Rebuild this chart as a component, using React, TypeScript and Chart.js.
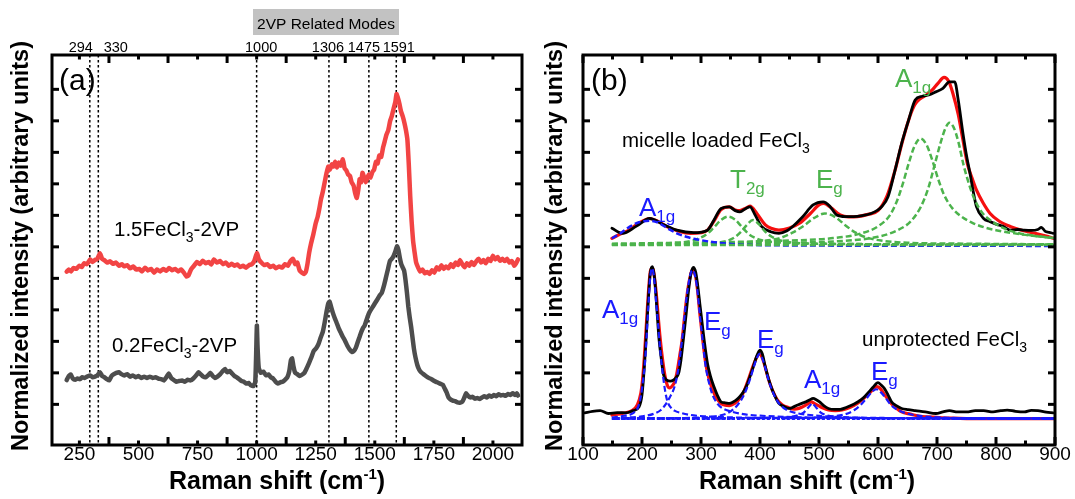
import React, { useEffect, useRef } from "react";
import { Chart, registerables } from "chart.js";
Chart.register(...registerables);

const FONT = '"Liberation Sans", Arial, Helvetica, sans-serif';

// ---------- shared y scale (arbitrary units, tick marks at 0..10) ----------
const Y_MIN = -1.29;
const Y_MAX = 11.09;
const Y_TICKS = [0, 1, 2, 3, 4, 5, 6, 7, 8, 9, 10];

// ---------- panel (a) ----------
const A_X_MIN = 134;
const A_X_MAX = 2123;
const A_LABEL_TICKS = [250, 500, 750, 1000, 1250, 1500, 1750, 2000];
const A_LONG_TICKS = [375, 625, 875, 1125, 1375, 1625, 1875];
const A_MODES = [294, 330, 1000, 1306, 1475, 1591];
const A_MODE_NAMES = ["294", "330", "1000", "1306", "1475", "1591"];

const A_RED: [number, number][] = [[196,4.21],[205,4.28],[215,4.22],[225,4.33],[237,4.30],[249,4.40],[260,4.36],[270,4.48],[282,4.45],[296,4.60],[305,4.52],[315,4.58],[326,4.62],[337,4.80],[346,4.62],[355,4.58],[367,4.50],[380,4.54],[392,4.46],[405,4.50],[418,4.40],[430,4.45],[439,4.38],[452,4.42],[465,4.32],[478,4.38],[490,4.28],[503,4.30],[515,4.22],[528,4.34],[540,4.25],[553,4.30],[566,4.18],[578,4.28],[592,4.22],[605,4.30],[618,4.24],[630,4.33],[642,4.26],[655,4.30],[668,4.22],[680,4.28],[692,4.18],[703,4.06],[712,4.10],[722,4.28],[735,4.40],[748,4.52],[760,4.45],[772,4.56],[785,4.48],[797,4.52],[808,4.44],[819,4.60],[832,4.50],[845,4.55],[858,4.45],[870,4.50],[882,4.40],[895,4.46],[906,4.40],[918,4.44],[930,4.36],[942,4.40],[955,4.34],[968,4.42],[980,4.45],[990,4.55],[1001,4.80],[1010,4.60],[1020,4.50],[1032,4.42],[1045,4.45],[1058,4.36],[1070,4.40],[1082,4.32],[1095,4.38],[1108,4.34],[1120,4.45],[1132,4.40],[1143,4.55],[1154,4.62],[1163,4.45],[1172,4.50],[1182,4.25],[1192,4.18],[1200,4.14],[1208,4.20],[1215,4.45],[1222,4.80],[1230,5.10],[1240,5.40],[1250,5.75],[1258,5.95],[1265,6.20],[1272,6.50],[1280,6.75],[1288,7.05],[1296,7.35],[1303,7.55],[1310,7.45],[1318,7.62],[1325,7.55],[1332,7.70],[1340,7.52],[1348,7.68],[1356,7.58],[1365,7.78],[1372,7.50],[1380,7.42],[1387,7.30],[1395,7.25],[1402,7.05],[1410,6.95],[1417,6.70],[1424,6.55],[1430,6.80],[1436,7.15],[1442,7.05],[1448,7.35],[1455,7.20],[1462,7.05],[1468,7.18],[1475,7.30],[1482,7.20],[1490,7.38],[1497,7.45],[1505,7.70],[1512,7.65],[1519,7.90],[1527,7.85],[1535,8.15],[1542,8.35],[1549,8.55],[1557,8.70],[1565,9.00],[1572,9.15],[1580,9.40],[1587,9.60],[1592,9.85],[1597,9.75],[1604,9.55],[1611,9.30],[1618,9.15],[1625,8.95],[1632,8.70],[1638,8.40],[1644,7.60],[1650,6.60],[1656,5.80],[1662,5.20],[1668,4.85],[1675,4.50],[1683,4.35],[1692,4.22],[1702,4.28],[1712,4.16],[1722,4.20],[1732,4.14],[1742,4.26],[1752,4.18],[1762,4.35],[1772,4.28],[1782,4.42],[1792,4.30],[1802,4.38],[1812,4.32],[1822,4.45],[1832,4.36],[1842,4.50],[1852,4.42],[1860,4.58],[1870,4.45],[1880,4.35],[1890,4.48],[1900,4.40],[1910,4.52],[1920,4.42],[1930,4.55],[1940,4.62],[1950,4.50],[1960,4.58],[1970,4.48],[1980,4.62],[1990,4.55],[2000,4.72],[2010,4.60],[2020,4.68],[2030,4.56],[2040,4.62],[2050,4.55],[2060,4.62],[2070,4.50],[2080,4.55],[2090,4.40],[2098,4.48],[2106,4.60]];

const A_GREY: [number, number][] = [[196,0.77],[205,0.90],[213,0.95],[222,0.82],[232,0.78],[242,0.82],[252,0.80],[262,0.86],[272,0.84],[282,0.88],[296,0.92],[306,0.86],[316,0.88],[326,0.92],[337,1.02],[346,0.90],[356,0.86],[366,0.80],[376,0.76],[386,0.90],[396,0.96],[406,1.00],[417,1.02],[428,0.96],[440,0.92],[452,0.96],[464,0.88],[476,0.92],[488,0.86],[500,0.90],[512,0.84],[524,0.88],[536,0.84],[548,0.88],[560,0.84],[572,0.86],[584,0.82],[596,0.80],[608,0.76],[618,0.86],[628,0.98],[638,0.84],[648,0.78],[660,0.72],[672,0.74],[684,0.76],[696,0.72],[708,0.78],[720,0.76],[732,0.82],[744,0.92],[754,1.02],[764,0.95],[774,0.88],[784,0.86],[794,0.92],[804,1.00],[814,0.90],[824,0.84],[834,0.88],[846,0.96],[856,1.05],[866,1.12],[876,1.02],[886,1.06],[896,0.98],[906,0.90],[916,0.86],[926,0.80],[936,0.74],[946,0.72],[956,0.66],[966,0.68],[976,0.60],[986,0.58],[994,0.70],[998,1.60],[1001,2.50],[1004,1.80],[1009,1.15],[1018,1.00],[1028,1.04],[1040,0.92],[1050,0.95],[1060,0.86],[1070,0.82],[1080,0.72],[1090,0.66],[1100,0.70],[1110,0.72],[1120,0.78],[1130,0.86],[1138,1.05],[1145,1.40],[1150,1.46],[1156,1.20],[1163,1.00],[1172,0.96],[1182,0.90],[1192,0.94],[1202,1.00],[1212,1.15],[1222,1.32],[1232,1.50],[1242,1.70],[1252,1.78],[1262,1.92],[1270,2.10],[1280,2.30],[1288,2.60],[1296,2.95],[1303,3.20],[1309,3.26],[1315,3.10],[1322,2.92],[1330,2.75],[1338,2.60],[1347,2.42],[1356,2.28],[1365,2.14],[1374,2.02],[1384,1.86],[1394,1.74],[1404,1.66],[1412,1.70],[1420,1.80],[1428,1.98],[1436,2.15],[1443,2.30],[1450,2.42],[1457,2.50],[1465,2.68],[1473,2.85],[1480,2.96],[1490,3.08],[1500,3.20],[1510,3.32],[1520,3.45],[1530,3.55],[1540,3.80],[1548,4.05],[1556,4.30],[1564,4.55],[1572,4.62],[1580,4.72],[1587,4.85],[1594,5.02],[1600,4.90],[1606,4.65],[1612,4.45],[1618,4.35],[1624,4.25],[1630,3.95],[1636,3.55],[1642,3.10],[1648,2.75],[1654,2.45],[1660,2.10],[1666,1.75],[1672,1.50],[1680,1.25],[1688,1.10],[1696,1.02],[1706,0.96],[1716,0.90],[1728,0.84],[1740,0.80],[1752,0.74],[1764,0.70],[1776,0.66],[1788,0.62],[1796,0.50],[1804,0.38],[1812,0.22],[1820,0.16],[1830,0.12],[1840,0.10],[1850,0.06],[1860,0.05],[1870,0.08],[1878,0.20],[1886,0.35],[1894,0.28],[1904,0.22],[1914,0.24],[1924,0.18],[1934,0.20],[1944,0.17],[1954,0.22],[1964,0.26],[1974,0.22],[1984,0.28],[1994,0.24],[2004,0.30],[2014,0.26],[2024,0.32],[2034,0.28],[2044,0.30],[2054,0.27],[2064,0.33],[2074,0.30],[2084,0.35],[2094,0.30],[2102,0.35],[2106,0.28]];

// ---------- panel (b) ----------
const B_X_MIN = 100;
const B_X_MAX = 900;
const B_LABEL_TICKS = [100, 200, 300, 400, 500, 600, 700, 800, 900];
const B_SHORT_TICKS = [150, 250, 350, 450, 550, 650, 750, 850];

const B_TOP_DATA: [number, number][] = [[149,5.59],[167,5.43],[190,5.65],[213,5.90],[235,5.72],[259,5.53],[288,5.45],[311,5.53],[322,5.85],[334,6.22],[348,6.27],[358,6.15],[366,6.11],[376,6.22],[383,6.27],[392,6.00],[403,5.64],[418,5.48],[432,5.43],[445,5.50],[455,5.64],[472,5.95],[490,6.33],[507,6.43],[518,6.30],[530,6.01],[545,5.96],[559,5.96],[575,6.00],[588,6.06],[598,6.15],[606,6.27],[617,6.59],[629,7.44],[640,8.28],[652,9.03],[663,9.66],[675,9.78],[686,9.82],[698,9.92],[710,10.03],[721,10.24],[730,10.24],[736,9.66],[744,8.60],[750,7.90],[756,7.33],[762,6.70],[767,6.27],[779,5.90],[790,5.80],[800,5.72],[812,5.65],[825,5.53],[837,5.55],[848,5.53],[860,5.52],[871,5.55],[877,5.62],[883,5.50],[890,5.46],[897,5.43]];

const B_TOP_FIT: [number, number][] = [[149,5.27],[165,5.42],[178,5.53],[195,5.76],[213,5.90],[228,5.80],[242,5.64],[262,5.50],[282,5.43],[300,5.45],[311,5.53],[322,5.82],[334,6.18],[348,6.27],[358,6.17],[366,6.15],[375,6.22],[383,6.29],[395,6.05],[409,5.70],[420,5.58],[432,5.53],[450,5.60],[467,5.75],[485,6.05],[500,6.33],[508,6.38],[520,6.25],[536,6.01],[550,5.95],[565,5.96],[583,6.03],[600,6.15],[615,6.60],[629,7.44],[640,8.25],[652,9.03],[662,9.50],[672,9.71],[682,9.82],[692,9.98],[702,10.20],[712,10.38],[720,10.25],[727,9.87],[736,9.20],[744,8.39],[752,7.60],[760,7.15],[767,6.80],[778,6.40],[790,6.06],[805,5.82],[825,5.64],[845,5.52],[866,5.43],[885,5.34],[897,5.27]];

const B_BLUE_TOP: [number, number][] = [[149,5.27],[165,5.45],[180,5.65],[195,5.78],[213,5.83],[228,5.76],[244,5.58],[259,5.43],[275,5.32],[290,5.25],[317,5.16],[345,5.10],[370,5.07],[420,5.05],[500,5.04],[900,5.03]];
const B_GREEN_T2G1: [number, number][] = [[149,5.07],[250,5.12],[290,5.22],[311,5.42],[322,5.62],[334,5.85],[346,5.96],[358,5.86],[368,5.66],[380,5.42],[392,5.28],[403,5.21],[440,5.13],[550,5.09],[900,5.07]];
const B_GREEN_T2G2: [number, number][] = [[149,5.07],[300,5.10],[340,5.17],[357,5.30],[368,5.48],[378,5.70],[388,5.85],[398,5.72],[408,5.50],[420,5.32],[440,5.18],[500,5.10],[900,5.07]];
const B_GREEN_EG: [number, number][] = [[149,5.08],[350,5.12],[400,5.18],[432,5.27],[455,5.45],[475,5.68],[492,5.92],[510,6.06],[528,5.94],[545,5.68],[562,5.45],[580,5.30],[605,5.20],[650,5.13],[750,5.10],[900,5.08]];
const B_GREEN_A1G1: [number, number][] = [[149,5.10],[300,5.14],[450,5.20],[520,5.27],[570,5.42],[600,5.65],[620,6.00],[632,6.45],[642,7.00],[652,7.65],[662,8.20],[672,8.44],[682,8.25],[692,7.75],[702,7.15],[712,6.65],[725,6.25],[740,5.98],[760,5.76],[780,5.62],[800,5.53],[850,5.38],[900,5.28]];
const B_GREEN_A1G2: [number, number][] = [[149,5.08],[400,5.12],[550,5.20],[600,5.32],[630,5.50],[655,5.80],[672,6.25],[685,6.85],[696,7.60],[706,8.30],[714,8.75],[721,8.94],[728,8.80],[736,8.35],[745,7.60],[755,6.95],[765,6.45],[778,6.05],[790,5.85],[810,5.62],[835,5.45],[865,5.35],[900,5.27]];
const B_GREEN_BASE: [number, number][] = [[149,5.06],[900,5.06]];

const B_BOT_DATA: [number, number][] = [[103,-0.27],[116,-0.22],[129,-0.20],[143,-0.29],[158,-0.26],[172,-0.27],[185,-0.20],[195,-0.08],[200,0.30],[204,1.19],[207,2.10],[210,3.10],[214,4.16],[218,4.37],[221,4.05],[223,3.63],[226,2.80],[229,2.04],[233,1.40],[236,0.98],[242,0.77],[248,0.74],[253,0.77],[258,0.86],[262,0.98],[266,1.40],[270,2.04],[275,2.90],[279,3.63],[283,4.15],[287,4.35],[291,4.20],[294,3.84],[298,3.20],[302,2.57],[306,1.95],[311,1.30],[316,0.90],[322,0.56],[328,0.28],[334,0.08],[341,0.05],[348,0.03],[355,0.08],[360,0.14],[366,0.25],[372,0.40],[378,0.62],[383,0.88],[388,1.15],[392,1.40],[396,1.60],[400,1.72],[404,1.60],[409,1.19],[415,0.78],[421,0.45],[427,0.20],[432,0.03],[440,-0.06],[449,-0.13],[457,-0.08],[464,-0.02],[472,0.04],[478,0.08],[484,0.14],[490,0.19],[496,0.14],[501,0.08],[508,-0.04],[516,-0.13],[526,-0.16],[536,-0.16],[546,-0.10],[556,-0.02],[564,0.06],[571,0.14],[578,0.26],[585,0.40],[592,0.55],[600,0.69],[605,0.62],[611,0.50],[617,0.30],[623,0.08],[631,-0.04],[640,-0.13],[651,-0.17],[663,-0.20],[680,-0.24],[698,-0.29],[710,-0.24],[721,-0.20],[735,-0.24],[750,-0.24],[765,-0.20],[779,-0.20],[795,-0.24],[808,-0.20],[819,-0.18],[833,-0.22],[848,-0.24],[860,-0.19],[871,-0.20],[885,-0.25],[897,-0.27]];

const B_BOT_FIT: [number, number][] = [[149,-0.34],[168,-0.28],[184,-0.19],[192,-0.02],[198,0.35],[201,0.80],[204,1.51],[207,2.40],[210,3.31],[214,4.21],[217,4.32],[219,4.28],[221,4.05],[224,3.55],[227,2.89],[231,2.05],[235,1.40],[239,0.90],[243,0.60],[247,0.52],[250,0.56],[255,0.70],[259,0.98],[264,1.55],[268,2.04],[272,2.75],[276,3.42],[281,4.00],[285,4.26],[288,4.20],[291,4.05],[294,3.65],[298,2.89],[303,2.05],[308,1.30],[314,0.78],[320,0.45],[327,0.18],[334,0.03],[341,-0.03],[348,-0.04],[357,0.03],[366,0.19],[373,0.42],[380,0.77],[386,1.10],[391,1.35],[395,1.52],[399,1.61],[403,1.52],[408,1.24],[414,0.82],[421,0.45],[429,0.15],[438,-0.02],[448,-0.10],[458,-0.15],[467,-0.12],[476,-0.04],[482,0.03],[487,0.08],[492,0.03],[499,-0.04],[507,-0.12],[516,-0.18],[528,-0.20],[539,-0.18],[552,-0.10],[565,0.03],[575,0.18],[585,0.35],[592,0.48],[597,0.56],[602,0.53],[606,0.45],[613,0.26],[620,0.08],[630,-0.10],[640,-0.24],[655,-0.31],[669,-0.37],[686,-0.40],[704,-0.42],[725,-0.44],[750,-0.45],[800,-0.45],[900,-0.45]];

const B_BLUE_1: [number, number][] = [[149,-0.42],[170,-0.36],[185,-0.28],[193,-0.10],[198,0.25],[202,0.80],[205,1.30],[208,2.20],[211,3.20],[214,4.05],[217,4.32],[220,4.10],[223,3.45],[227,2.60],[231,1.70],[235,1.00],[239,0.45],[243,0.10],[248,-0.08],[255,-0.20],[268,-0.28],[280,-0.33],[305,-0.38],[330,-0.40],[400,-0.43],[900,-0.45]];
const B_BLUE_2: [number, number][] = [[149,-0.44],[200,-0.38],[220,-0.30],[232,-0.18],[240,0.00],[247,0.22],[255,0.55],[260,0.95],[265,1.60],[270,2.40],[275,3.30],[280,3.95],[285,4.26],[289,4.15],[293,3.75],[298,2.85],[303,2.00],[308,1.20],[314,0.65],[320,0.28],[328,0.02],[336,-0.12],[350,-0.22],[375,-0.32],[400,-0.36],[500,-0.42],[900,-0.45]];
const B_BLUE_3: [number, number][] = [[149,-0.45],[300,-0.42],[330,-0.36],[345,-0.28],[355,-0.15],[362,-0.02],[370,0.20],[377,0.48],[384,0.85],[390,1.22],[395,1.48],[399,1.60],[403,1.50],[408,1.22],[414,0.80],[421,0.42],[428,0.15],[435,-0.03],[445,-0.17],[460,-0.27],[480,-0.33],[520,-0.39],[600,-0.43],[900,-0.45]];
const B_BLUE_4: [number, number][] = [[149,-0.45],[420,-0.43],[450,-0.40],[465,-0.34],[474,-0.26],[480,-0.14],[485,-0.03],[488,0.03],[492,-0.03],[497,-0.14],[503,-0.26],[512,-0.34],[530,-0.40],[560,-0.43],[900,-0.45]];
const B_BLUE_5: [number, number][] = [[149,-0.45],[480,-0.43],[520,-0.39],[545,-0.31],[560,-0.18],[570,-0.03],[580,0.18],[588,0.36],[597,0.48],[605,0.38],[613,0.20],[621,0.00],[630,-0.14],[645,-0.27],[665,-0.35],[700,-0.41],[760,-0.44],[900,-0.45]];
const B_BLUE_BASE: [number, number][] = [[149,-0.45],[900,-0.45]];

// ---------- colours ----------
const RED_A = "#f24444";
const GREY_A = "#4d4d4d";
const RED_B = "#f50f0f";
const GREEN = "#4cb34c";
const BLUE = "#1a1aff";

type Run = { t: string; size: number; dy?: number; bold?: boolean };

function drawRuns(ctx: CanvasRenderingContext2D, runs: Run[], x: number, y: number, color: string, align: "left" | "center" = "left") {
  ctx.save();
  ctx.fillStyle = color;
  ctx.textBaseline = "alphabetic";
  ctx.textAlign = "left";
  let w = 0;
  const widths: number[] = [];
  for (const r of runs) {
    ctx.font = `${r.bold ? "bold " : ""}${r.size}px ${FONT}`;
    const m = ctx.measureText(r.t).width;
    widths.push(m);
    w += m;
  }
  let cx = align === "center" ? x - w / 2 : x;
  runs.forEach((r, i) => {
    ctx.font = `${r.bold ? "bold " : ""}${r.size}px ${FONT}`;
    ctx.fillText(r.t, cx, y + (r.dy || 0));
    cx += widths[i];
  });
  ctx.restore();
}

function mode(ctx: CanvasRenderingContext2D, main: string, sub: string, x: number, y: number, color: string) {
  drawRuns(ctx, [{ t: main, size: 26 }, { t: sub, size: 17, dy: 6 }], x, y, color);
}

function xTitle(ctx: CanvasRenderingContext2D, cx: number, y: number) {
  drawRuns(ctx, [
    { t: "Raman shift (cm", size: 25, bold: true },
    { t: "-1", size: 15, bold: true, dy: -10 },
    { t: ")", size: 25, bold: true },
  ], cx, y, "#000", "center");
}

function yTitle(ctx: CanvasRenderingContext2D, x: number, cy: number) {
  ctx.save();
  ctx.translate(x, cy);
  ctx.rotate(-Math.PI / 2);
  drawRuns(ctx, [{ t: "Normalized intensity (arbitrary units)", size: 23.5, bold: true }], 0, 0, "#000", "center");
  ctx.restore();
}

function framePlugin(longX: number[], shortX: number[]) {
  return {
    id: "frame",
    afterDraw(chart: any) {
      const { ctx, chartArea: ca, scales } = chart;
      const x = scales.x, y = scales.y;
      ctx.save();
      ctx.strokeStyle = "#000";
      ctx.lineWidth = 3;
      ctx.strokeRect(ca.left, ca.top, ca.right - ca.left, ca.bottom - ca.top);
      ctx.lineWidth = 3;
      ctx.lineCap = "butt";
      const tick = (x1: number, y1: number, x2: number, y2: number) => {
        ctx.beginPath(); ctx.moveTo(x1, y1); ctx.lineTo(x2, y2); ctx.stroke();
      };
      for (const v of longX) {
        const p = x.getPixelForValue(v);
        tick(p, ca.bottom, p, ca.bottom - 8);
        tick(p, ca.top, p, ca.top + 8);
      }
      for (const v of shortX) {
        const p = x.getPixelForValue(v);
        tick(p, ca.bottom, p, ca.bottom - 4.5);
        tick(p, ca.top, p, ca.top + 4.5);
      }
      for (const v of Y_TICKS) {
        const p = y.getPixelForValue(v);
        tick(ca.left, p, ca.left + 7, p);
        tick(ca.right, p, ca.right - 7, p);
      }
      ctx.restore();
    },
  };
}

const annotA = {
  id: "annotA",
  beforeDatasetsDraw(chart: any) {
    const { ctx, chartArea: ca, scales } = chart;
    ctx.save();
    ctx.strokeStyle = "#000";
    ctx.lineWidth = 1.5;
    ctx.setLineDash([2.5, 2.5]);
    for (const v of A_MODES) {
      const p = scales.x.getPixelForValue(v);
      ctx.beginPath(); ctx.moveTo(p, ca.top); ctx.lineTo(p, ca.bottom); ctx.stroke();
    }
    ctx.restore();
  },
  afterDraw(chart: any) {
    const { ctx, scales } = chart;
    const offsets = [-9, 17.5, 4.5, -1, -5, 2.5];
    A_MODES.forEach((v, i) => {
      const p = scales.x.getPixelForValue(v);
      drawRuns(ctx, [{ t: A_MODE_NAMES[i], size: 14.5 }], p + offsets[i], 52, "#000", "center");
    });
    ctx.save();
    ctx.fillStyle = "#c2c2c2";
    ctx.fillRect(253, 9, 146, 26);
    ctx.restore();
    drawRuns(ctx, [{ t: "2VP Related Modes", size: 15.5 }], 326, 28.5, "#000", "center");
    drawRuns(ctx, [{ t: "(a)", size: 30 }], 59, 90, "#000");
    drawRuns(ctx, [{ t: "1.5FeCl", size: 20.5 }, { t: "3", size: 14, dy: 6 }, { t: "-2VP", size: 20.5 }], 114, 236, "#000");
    drawRuns(ctx, [{ t: "0.2FeCl", size: 20.5 }, { t: "3", size: 14, dy: 6 }, { t: "-2VP", size: 20.5 }], 112, 352, "#000");
    xTitle(ctx, 277, 489);
    yTitle(ctx, 28, 246);
  },
};

const annotB = {
  id: "annotB",
  afterDraw(chart: any) {
    const { ctx } = chart;
    drawRuns(ctx, [{ t: "(b)", size: 30 }], 51, 90, "#000");
    drawRuns(ctx, [{ t: "micelle loaded FeCl", size: 20.5 }, { t: "3", size: 14, dy: 6 }], 82, 147, "#000");
    mode(ctx, "A", "1g", 99, 216, BLUE);
    mode(ctx, "T", "2g", 190, 188, GREEN);
    mode(ctx, "E", "g", 276, 188, GREEN);
    mode(ctx, "A", "1g", 355, 87, GREEN);
    mode(ctx, "A", "1g", 62, 318, BLUE);
    mode(ctx, "E", "g", 164, 330, BLUE);
    mode(ctx, "E", "g", 217, 348, BLUE);
    drawRuns(ctx, [{ t: "unprotected FeCl", size: 20.5 }, { t: "3", size: 14, dy: 6 }], 322, 346, "#000");
    mode(ctx, "A", "1g", 264, 388, BLUE);
    mode(ctx, "E", "g", 331, 380, BLUE);
    xTitle(ctx, 267, 489);
    yTitle(ctx, 22, 246);
  },
};

function line(pts: [number, number][], color: string, width: number, dash: number[] = [], smooth = false) {
  return {
    data: pts.map(([x, y]) => ({ x, y })),
    borderColor: color,
    borderWidth: width,
    borderDash: dash,
    pointRadius: 0,
    fill: false,
    tension: smooth ? 0.4 : 0.15,
    cubicInterpolationMode: smooth ? "monotone" : "default",
    borderJoinStyle: "round",
    borderCapStyle: dash.length ? "butt" : "round",
  };
}

function options(xmin: number, xmax: number, yWidth: number, padRight: number, labels: number[]) {
  return {
    responsive: false,
    animation: false,
    devicePixelRatio: 1,
    events: [],
    layout: { padding: { left: 0, top: 55, right: padRight, bottom: 0 } },
    plugins: { legend: { display: false }, tooltip: { enabled: false } },
    elements: { point: { radius: 0 } },
    scales: {
      x: {
        type: "linear",
        min: xmin,
        max: xmax,
        grid: { display: false },
        border: { display: false },
        afterBuildTicks: (s: any) => { s.ticks = labels.map((v) => ({ value: v })); },
        afterFit: (s: any) => { s.height = 54; },
        ticks: {
          font: { family: FONT, size: 19 },
          color: "#000",
          padding: -10,
          maxRotation: 0,
          autoSkip: false,
          callback: (v: any) => String(v),
        },
      },
      y: {
        type: "linear",
        min: Y_MIN,
        max: Y_MAX,
        grid: { display: false },
        border: { display: false },
        ticks: { display: false },
        afterFit: (s: any) => { s.width = yWidth; },
      },
    },
  };
}

export default function App() {
  const refA = useRef<HTMLCanvasElement>(null);
  const refB = useRef<HTMLCanvasElement>(null);

  useEffect(() => {
    const chartA = new Chart(refA.current as HTMLCanvasElement, {
      type: "line",
      data: {
        datasets: [
          line(A_GREY, GREY_A, 4.5),
          line(A_RED, RED_A, 4.5),
        ],
      },
      options: options(A_X_MIN, A_X_MAX, 52, 18, A_LABEL_TICKS) as any,
      plugins: [annotA, framePlugin(A_LONG_TICKS, A_LABEL_TICKS)],
    } as any);

    const chartB = new Chart(refB.current as HTMLCanvasElement, {
      type: "line",
      data: {
        datasets: [
          line(B_GREEN_BASE, GREEN, 2.5, [6, 3], true),
          line(B_BLUE_TOP, BLUE, 2.5, [6, 3], true),
          line(B_GREEN_T2G1, GREEN, 2.5, [6, 3], true),
          line(B_GREEN_T2G2, GREEN, 2.5, [6, 3], true),
          line(B_GREEN_EG, GREEN, 2.5, [6, 3], true),
          line(B_GREEN_A1G1, GREEN, 2.5, [6, 3], true),
          line(B_GREEN_A1G2, GREEN, 2.5, [6, 3], true),
          line(B_TOP_DATA, "#000", 2.8, [], true),
          line(B_TOP_FIT, RED_B, 3.2, [], true),
          line(B_BLUE_BASE, BLUE, 3, [3, 2], true),
          line(B_BLUE_1, BLUE, 2.2, [6, 3], true),
          line(B_BLUE_2, BLUE, 2.2, [6, 3], true),
          line(B_BLUE_3, BLUE, 2.2, [6, 3], true),
          line(B_BLUE_4, BLUE, 2.2, [6, 3], true),
          line(B_BLUE_5, BLUE, 2.2, [6, 3], true),
          line(B_BOT_DATA, "#000", 2.8, [], true),
          line(B_BOT_FIT, RED_B, 3.2, [], true),
        ],
      },
      options: options(B_X_MIN, B_X_MAX, 43, 20, B_LABEL_TICKS) as any,
      plugins: [annotB, framePlugin(B_LABEL_TICKS, B_SHORT_TICKS)],
    } as any);

    return () => {
      chartA.destroy();
      chartB.destroy();
    };
  }, []);

  return (
    <div style={{ position: "absolute", left: 0, top: 0, width: 1075, height: 499, background: "#fff", overflow: "hidden" }}>
      <canvas ref={refA} width={540} height={499} style={{ position: "absolute", left: 0, top: 0, width: 540, height: 499 }} />
      <canvas ref={refB} width={535} height={499} style={{ position: "absolute", left: 540, top: 0, width: 535, height: 499 }} />
    </div>
  );
}
